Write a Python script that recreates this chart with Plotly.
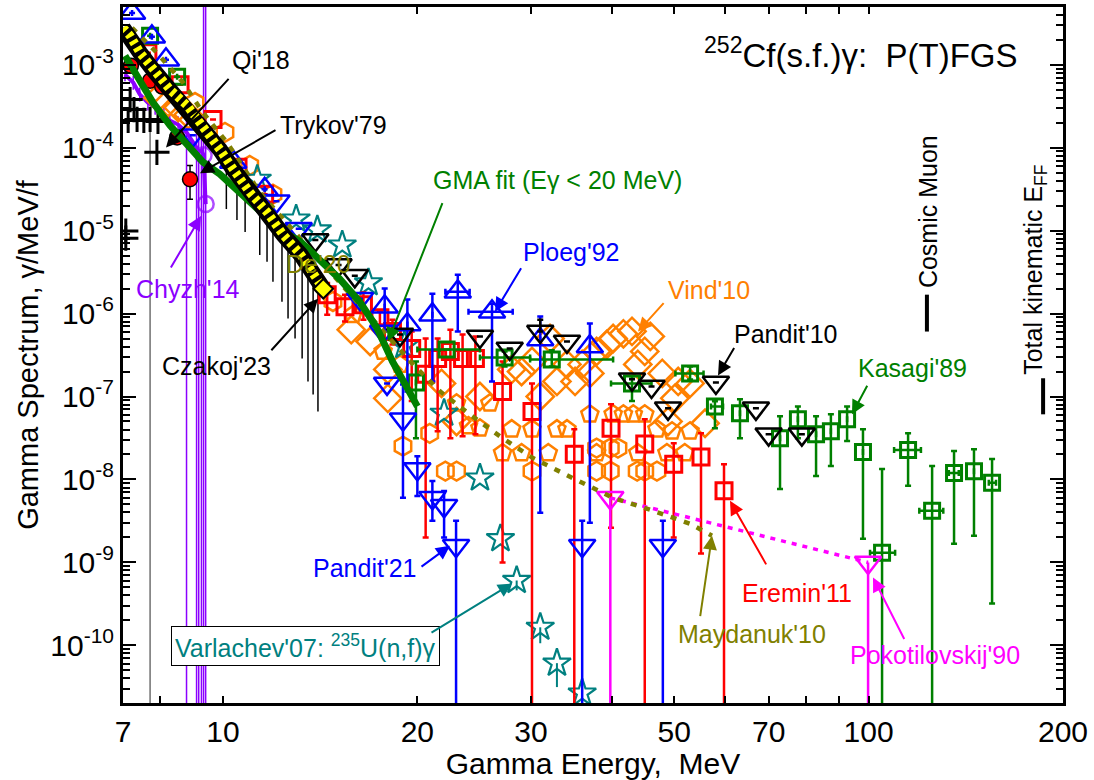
import numpy as np
import plotly.graph_objects as go

# Gamma energy in MeV, spectrum in gamma/MeV/fission.
FLOOR = 1e-12  # lower end for uncertainties that run below the axis range

# Czakoj'23 evaluated band and its uncertainty bars
czakoj_E = [7.0, 7.18, 7.44, 7.79, 8.28, 8.8, 9.31, 9.89, 10.37, 11.0, 11.7, 12.4, 13.2, 14.0, 14.3]
czakoj_y = [2.78e-3, 2.23e-3, 1.39e-3, 8.7e-4, 5.0e-4, 3.22e-4, 1.85e-4, 9.5e-5, 5.5e-5, 2.9e-5,
            1.67e-5, 8.85e-6, 5.1e-6, 2.42e-6, 1.99e-6]
czakoj_bar_E = [10.12, 10.51, 10.82, 11.13, 11.40, 11.70, 11.95, 12.34, 12.61, 12.93, 13.26, 13.54, 13.79, 14.03]
czakoj_bar_hi = [9.0e-5, 6.3e-5, 4.8e-5, 3.6e-5, 2.8e-5, 2.2e-5, 1.77e-5, 1.27e-5, 1.02e-5, 8.1e-6, 6.4e-6,
                 4.8e-6, 3.97e-6, 3.18e-6]
czakoj_bar_lo = [1.82e-5, 1.34e-5, 9.6e-6, 2.2e-5, 5.1e-6, 4.2e-6, 2.42e-6, 1.39e-6, 8.7e-7, 5.0e-7, 2.88e-7,
                 1.52e-7, 1.06e-7, 6.6e-8]

# GMA fit (E < 20 MeV)
gma_E = [7.05, 7.44, 7.79, 8.28, 8.8, 9.31, 9.89, 10.6, 11.4, 12.24, 13.2, 14.12, 15.16, 16.28, 17.3, 18.3, 19.3, 20.0]
gma_y = [1.28e-3, 6.6e-4, 3.5e-4, 1.85e-4, 1.07e-4, 6.7e-5, 4.8e-5, 2.9e-5, 1.67e-5, 1.04e-5, 7.3e-6, 4.56e-6,
         2.62e-6, 1.39e-6, 6.8e-7, 2.65e-7, 1.32e-7, 7.6e-8]

# Maydanuk'10
may_E = [7.23, 7.9, 8.67, 9.31, 10.14, 11.4, 13.2, 14.65, 16.9, 19.5, 21.7, 24.1, 27.1, 30.2, 34.8, 40.2, 46.4, 52.9, 57.2]
may_y = [2.78e-3, 1.39e-3, 6.1e-4, 2.65e-4, 1.16e-4, 2.9e-5, 7.9e-6, 3.18e-6, 9.2e-7, 2.65e-7, 1.15e-7, 6.1e-8,
         3.15e-8, 1.81e-8, 1.04e-8, 6.0e-9, 4.19e-9, 2.92e-9, 2.1e-9]

# Pokotilovskij'90
pok_E = [39.8, 99.8]
pok_y = [6.0e-9, 1.0e-9]

# Chyzh'14
chyzh_E = [7.05, 7.26, 7.43, 7.65, 7.85, 8.1, 8.27, 8.52, 8.78, 9.10, 9.17, 9.26, 9.33, 9.40]
chyzh_y = [7.6e-4, 6.1e-4, 4.4e-4, 3.5e-4, 3.1e-4, 2.5e-4, 2.13e-4, 1.9e-4, 1.53e-4, 1.0e-4, 8.8e-5, 9.3e-5, 8.1e-5, 2.09e-5]
chyzh_lo = [6.3e-4, 5.0e-4, 3.6e-4, 2.8e-4, 2.5e-4, 2.0e-4, 1.7e-4, 1.5e-4, FLOOR, FLOOR, FLOOR, FLOOR, FLOOR, FLOOR]
chyzh_hi = [9.0e-4, 7.3e-4, 5.3e-4, 4.3e-4, 3.8e-4, 3.1e-4, 2.6e-4, 2.4e-4, 2.2e-4, 1.6e-4, 1.4e-4, 1.5e-4, 1.0, 1.0]

# Trykov'79
try_E = [7.2, 7.71, 8.05, 8.49, 8.89]
try_y = [9.7e-4, 6.43e-4, 5.45e-4, 1.33e-4, 4.16e-5]
try_lo = [8.8e-4, 5.8e-4, 4.9e-4, 1.2e-4, 2.39e-5]
try_hi = [1.07e-3, 7.1e-4, 6.0e-4, 1.46e-4, 6.1e-5]

# Qi'18
qi_E = [7.18, 7.28, 7.13, 7.36, 7.54, 7.71, 7.93, 7.9, 7.07, 7.07]
qi_y = [3.8e-4, 2.88e-4, 2.13e-4, 2.19e-4, 2.13e-4, 2.19e-4, 2.07e-4, 8.8e-5, 9.9e-6, 8.1e-6]
qi_lo = [3.8e-4, 2.88e-4, 2.13e-4, 2.19e-4, 2.13e-4, FLOOR, 2.07e-4, 8.8e-5, 9.9e-6, 8.1e-6]

# Ploeg'92
ploeg_E = [7.23, 7.76, 8.16, 10.37, 11.6, 17.8, 19.3, 21.1, 23.1, 26.1, 31.0, 37.0]
ploeg_y = [4.2e-3, 2.17e-3, 1.15e-3, 6.7e-5, 3.16e-5, 1.21e-6, 7.36e-7, 9.7e-7, 1.83e-6, 1.05e-6, 4.86e-7, 4.0e-7]
ploeg_lo = [4.2e-3, 2.17e-3, 1.15e-3, 6.7e-5, 3.16e-5, 6.07e-7, 1.15e-7, 1.52e-7, 6.07e-7, 1.52e-7, 3.96e-9, 3.0e-9]
ploeg_hi = [4.2e-3, 2.17e-3, 1.15e-3, 6.7e-5, 3.16e-5, 2.0e-6, 1.48e-6, 1.73e-6, 2.93e-6, 1.31e-6, 9.2e-7, 7.6e-7]
ploeg_Elo = [7.23, 7.76, 8.16, 10.37, 11.6, 17.8, 19.3, 21.1, 22.1, 24.0, 31.0, 37.0]
ploeg_Ehi = [7.23, 7.76, 8.16, 10.37, 11.6, 17.8, 19.3, 21.1, 24.1, 28.1, 31.0, 37.0]

# Pandit'21
p21_E = [8.98, 12.1, 13.1, 16.3, 17.7, 17.95, 19.0, 20.0, 21.1, 22.0, 22.96, 36.0, 48.0]
p21_y = [1.41e-4, 2.26e-5, 1.05e-5, 1.51e-6, 6.07e-7, 1.44e-7, 5.32e-8, 1.34e-8, 6.0e-9, 4.81e-9, 1.59e-9, 1.59e-9, 1.59e-9]
p21_lo = [1.41e-4, 2.26e-5, 1.05e-5, 1.51e-6, 6.07e-7, 1.44e-7, 6.0e-9, 6.3e-9, 3.18e-9, 1.99e-9, FLOOR, FLOOR, FLOOR]
p21_hi = [1.41e-4, 2.26e-5, 1.05e-5, 1.51e-6, 6.07e-7, 1.44e-7, 1.4e-7, 1.91e-8, 9.6e-9, 7.28e-9, 3.18e-9, 3.18e-9, 3.18e-9]

# Pandit'10
p10_E = [13.9, 15.1, 16.0, 18.8, 25.0, 27.8, 31.0, 34.1, 43.0, 46.1, 48.9, 58.0, 66.9, 70.0, 78.8]
p10_y = [7.7e-6, 3.86e-6, 2.85e-6, 5.58e-7, 5.28e-7, 3.8e-7, 6.07e-7, 4.6e-7, 1.61e-7, 1.32e-7, 7.2e-8, 1.48e-7,
         7.2e-8, 3.52e-8, 3.52e-8]
p10_hi = [7.7e-6, 3.86e-6, 2.85e-6, 5.58e-7, 5.28e-7, 3.8e-7, 8.45e-7, 4.6e-7, 1.61e-7, 1.32e-7, 7.2e-8, 1.48e-7,
          7.2e-8, 3.52e-8, 3.52e-8]

# Kasagi'89
kas_E = [7.71, 8.49, 19.9, 22.2, 27.3, 32.3, 43.0, 52.9, 57.8, 63.2, 72.9, 77.7, 82.9, 87.4, 92.6, 98.0, 104.9,
         115.1, 125.4, 135.6, 145.6, 155.3]
kas_y = [2.23e-3, 7.18e-4, 1.48e-7, 3.69e-7, 2.96e-7, 2.8e-7, 1.44e-7, 1.9e-7, 7.6e-8, 6.3e-8, 3.15e-8, 5.32e-8,
         3.52e-8, 3.82e-8, 5.32e-8, 2.14e-8, 1.31e-9, 2.26e-8, 4.19e-9, 1.2e-8, 1.26e-8, 9.1e-9]
kas_lo = [2.23e-3, 7.18e-4, 3.15e-8, 3.69e-7, 2.3e-7, 2.3e-7, 8.8e-8, 1.6e-7, 4.15e-8, 3.15e-8, 7.7e-9, 3.15e-8,
          1.1e-8, 1.45e-8, 2.9e-8, 1.93e-9, FLOOR, 8.4e-9, FLOOR, 1.68e-9, 2.1e-9, 3.2e-10]
kas_hi = [2.23e-3, 7.18e-4, 2.65e-7, 3.69e-7, 3.49e-7, 3.6e-7, 1.75e-7, 2.3e-7, 8.75e-8, 9.25e-8, 5.78e-8, 7.6e-8,
          5.78e-8, 6.1e-8, 7.6e-8, 4.04e-8, 1.34e-8, 3.61e-8, 1.45e-8, 2.2e-8, 2.32e-8, 1.76e-8]
kas_Elo = [7.71, 8.49, 19.9, 20.0, 25.0, 29.9, 39.9, 50.2, 57.0, 63.2, 72.9, 77.7, 82.9, 87.4, 92.6, 98.0, 100.5,
           109.5, 119.8, 133.1, 145.6, 153.5]
kas_Ehi = [7.71, 8.49, 19.9, 25.0, 29.9, 40.2, 46.1, 55.5, 59.5, 63.2, 72.9, 77.7, 82.9, 87.4, 92.6, 98.0, 109.9,
           120.5, 130.5, 137.9, 145.6, 157.5]

# Eremin'11
er_E = [7.65, 8.58, 9.65, 10.55, 11.6, 14.5, 15.45, 16.5, 17.5, 18.3, 19.6, 20.6, 21.5, 22.5, 23.5, 24.6, 27.1,
        30.1, 35.0, 39.9, 45.0, 49.9, 55.0, 59.7]
er_y = [1.39e-3, 5.75e-4, 2.19e-4, 5.8e-5, 2.75e-5, 1.69e-6, 1.21e-6, 1.28e-6, 8.9e-7, 6.07e-7, 3.8e-7, 1.85e-7,
        2.88e-7, 3.49e-7, 2.88e-7, 2.88e-7, 1.15e-7, 6.6e-8, 2.02e-8, 4.15e-8, 2.67e-8, 1.53e-8, 1.86e-8, 7.3e-9]
er_lo = [1.39e-3, 5.75e-4, 2.19e-4, 5.8e-5, 2.75e-5, 9.7e-7, 8.0e-7, 8.4e-7, 7.4e-7, 4.24e-7, 8.8e-8, 1.99e-9,
         3.82e-8, 3.15e-8, 3.33e-8, 3.52e-8, 1.0e-9, FLOOR, FLOOR, 2.62e-9, FLOOR, 1.99e-9, 1.28e-9, FLOOR]
er_hi = [1.39e-3, 5.75e-4, 2.19e-4, 5.8e-5, 2.75e-5, 2.34e-6, 1.69e-6, 1.8e-6, 1.05e-6, 8.45e-7, 6.07e-7, 5.0e-7,
         5.0e-7, 6.4e-7, 5.58e-7, 5.28e-7, 2.65e-7, 1.44e-7, 4.04e-8, 8.05e-8, 5.32e-8, 2.74e-8, 3.61e-8, 1.53e-8]

# Varlachev'07, 235U(n,f)
var_E = [11.3, 12.98, 14.0, 15.3, 16.8, 19.1, 22.0, 25.0, 26.9, 28.5, 31.0, 32.9, 36.0]
var_y = [4.16e-5, 1.38e-5, 1.02e-5, 6.7e-6, 2.35e-6, 4.12e-7, 6.28e-8, 1.04e-8, 1.93e-9, 6.05e-10, 1.65e-10,
         6.1e-11, 2.66e-11]
var_lo = [4.16e-5, 1.38e-5, 1.02e-5, 6.7e-6, 2.35e-6, 4.12e-7, 6.28e-8, 1.04e-8, 1.93e-9, 4.6e-10, 1.06e-10,
          3.14e-11, 2.66e-11]

# Vind'10 (three sets)
vind_d_E = [7.93, 8.22, 8.52, 8.83, 15.8, 16.9, 18.0, 18.0, 21.8, 23.0, 25.0, 28.0, 29.0, 30.1, 31.0, 32.1, 32.9,
            34.1, 35.1, 36.0, 37.0, 37.9, 39.3, 40.2, 41.7, 43.0, 45.9, 45.0, 43.9, 47.9, 50.7, 52.9, 50.1, 48.9, 55.8]
vind_d_y = [4.0e-4, 3.5e-4, 3.05e-4, 2.5e-4, 6.4e-7, 4.6e-7, 2.12e-7, 9.5e-8, 1.44e-7, 5.0e-8, 1.0e-7, 2.12e-7,
            2.0e-7, 2.65e-7, 1.0e-7, 5.0e-7, 1.52e-7, 2.44e-7, 1.52e-7, 2.44e-7, 1.9e-7, 3.5e-7, 4.24e-7, 5.0e-7,
            5.7e-7, 6.1e-7, 5.3e-7, 3.5e-7, 2.44e-7, 1.9e-7, 1.52e-7, 1.44e-7, 9.5e-8, 5.0e-8, 4.76e-8]
vind_p_E = [15.9, 17.7, 18.8, 23.0, 24.0, 25.0, 25.9, 28.0, 30.1, 32.9, 34.1, 27.1, 29.0, 31.9, 37.0, 40.2, 41.7,
            43.2, 45.0, 47.0, 49.6, 52.9, 37.9, 43.9, 48.7, 51.9]
vind_p_y = [9.7e-7, 3.5e-7, 2.44e-7, 8.3e-8, 4.4e-8, 4.15e-8, 8.3e-8, 4.04e-8, 4.04e-8, 4.04e-8, 4.04e-8, 2.08e-8,
            2.08e-8, 2.08e-8, 6.1e-8, 6.1e-8, 6.1e-8, 6.1e-8, 6.1e-8, 4.04e-8, 3.82e-8, 3.82e-8, 2.08e-8, 2.08e-8,
            2.08e-8, 2.08e-8]
vind_h_E = [9.05, 10.07, 11.0, 11.95, 14.8, 19.0, 20.9, 22.1, 23.0, 30.1, 37.9, 39.8, 40.9, 37.9, 39.8, 43.8, 45.0, 47.0]
vind_h_y = [3.5e-4, 1.53e-4, 6.1e-5, 2.75e-5, 1.4e-6, 2.52e-8, 3.6e-8, 1.26e-8, 1.26e-8, 1.26e-8, 2.39e-8, 2.39e-8,
            2.39e-8, 1.26e-8, 1.26e-8, 1.26e-8, 1.26e-8, 1.26e-8]

# Reference energies
muon_E, muon_span = 123.1, [6.07e-7, 1.69e-6]
eff_E, eff_span = 186.3, [6.1e-8, 1.66e-7]

# Axis ticks
x_ticks = [7, 10, 20, 30, 50, 70, 100, 200]
x_minor = [8, 40, 60, 80, 90]
y_exponents = list(range(-10, -2))

# ---------- styling ----------
FONT = "Arial, Liberation Sans, sans-serif"
BLUE, RED, GREEN, TEAL = "#0000FF", "#FF0000", "#008000", "#008080"
ORANGE, OLIVE, MAGENTA, PURPLE = "#FF8000", "#808000", "#FF00FF", "#8B00FF"


def yerr(y, lo, hi, color, width=3, thickness=2.5):
    y, lo, hi = (np.asarray(a, dtype=float) for a in (y, lo, hi))
    return dict(type="data", symmetric=False, array=hi - y, arrayminus=y - lo,
                color=color, width=width, thickness=thickness)


def xerr(E, lo, hi, color, width=3, thickness=2.5):
    E, lo, hi = (np.asarray(a, dtype=float) for a in (E, lo, hi))
    return dict(type="data", symmetric=False, array=hi - E, arrayminus=E - lo,
                color=color, width=width, thickness=thickness)


def open_marker(symbol, color, size, lw=2.5):
    return dict(symbol=symbol, size=size, color=color, line=dict(color=color, width=lw))


fig = go.Figure()

# Czakoj'23 uncertainty bars
bx, by = [], []
for e, lo, hi in zip(czakoj_bar_E, czakoj_bar_lo, czakoj_bar_hi):
    bx += [e, e, None]
    by += [hi, lo, None]
fig.add_trace(go.Scatter(x=bx, y=by, mode="lines", line=dict(color="black", width=1.5)))

# Chyzh'14
fig.add_trace(go.Scatter(
    x=chyzh_E, y=chyzh_y, mode="lines+markers",
    line=dict(color=PURPLE, width=4),
    marker=dict(symbol="circle-open", color=PURPLE, size=[0] * 12 + [16, 16], line=dict(color=PURPLE, width=2.5)),
    error_y=yerr(chyzh_y, chyzh_lo, chyzh_hi, PURPLE, width=0, thickness=1.5)))

# Vind'10
fig.add_trace(go.Scatter(x=vind_h_E, y=vind_h_y, mode="markers", marker=open_marker("hexagon-open", ORANGE, 19)))
fig.add_trace(go.Scatter(x=vind_p_E, y=vind_p_y, mode="markers", marker=open_marker("pentagon-open", ORANGE, 18)))
fig.add_trace(go.Scatter(x=vind_d_E, y=vind_d_y, mode="markers", marker=open_marker("diamond-open", ORANGE, 21)))

# Varlachev'07
fig.add_trace(go.Scatter(x=var_E, y=var_y, mode="markers", marker=open_marker("star-open", TEAL, 21, 2.2),
                         error_y=yerr(var_y, var_lo, var_y, TEAL, width=0, thickness=2)))

# Eremin'11
fig.add_trace(go.Scatter(x=er_E, y=er_y, mode="markers", marker=open_marker("square-open", RED, 16, 3),
                         error_y=yerr(er_y, er_lo, er_hi, RED)))

# Kasagi'89
fig.add_trace(go.Scatter(x=kas_E, y=kas_y, mode="markers", marker=open_marker("square-open", GREEN, 15, 3),
                         error_y=yerr(kas_y, kas_lo, kas_hi, GREEN),
                         error_x=xerr(kas_E, kas_Elo, kas_Ehi, GREEN)))

# Ploeg'92
fig.add_trace(go.Scatter(x=ploeg_E, y=ploeg_y, mode="markers", marker=open_marker("triangle-up-open", BLUE, 23),
                         error_y=yerr(ploeg_y, ploeg_lo, ploeg_hi, BLUE),
                         error_x=xerr(ploeg_E, ploeg_Elo, ploeg_Ehi, BLUE)))

# Pandit'21
fig.add_trace(go.Scatter(x=p21_E, y=p21_y, mode="markers", marker=open_marker("triangle-down-open", BLUE, 23),
                         error_y=yerr(p21_y, p21_lo, p21_hi, BLUE)))

# Pandit'10
fig.add_trace(go.Scatter(x=p10_E, y=p10_y, mode="markers", marker=open_marker("triangle-down-open", "black", 23),
                         error_y=yerr(p10_y, p10_y, p10_hi, "black")))

# Qi'18
fig.add_trace(go.Scatter(x=qi_E, y=qi_y, mode="markers",
                         marker=dict(symbol="cross-thin-open", size=18, color="black", line=dict(color="black", width=3)),
                         error_y=yerr(qi_y, qi_lo, qi_y, "#707070", width=0, thickness=1.5)))

# Trykov'79
fig.add_trace(go.Scatter(x=try_E, y=try_y, mode="markers",
                         marker=dict(symbol="circle", size=15, color=RED, line=dict(color="black", width=1.5)),
                         error_y=yerr(try_y, try_lo, try_hi, "black", width=3, thickness=1.5)))

# Pokotilovskij'90
fig.add_trace(go.Scatter(x=pok_E, y=pok_y, mode="lines+markers",
                         line=dict(color=MAGENTA, width=3.5, dash="5px,6px"),
                         marker=open_marker("triangle-down-open", MAGENTA, 23),
                         error_y=yerr(pok_y, [FLOOR, FLOOR], pok_y, MAGENTA, width=0, thickness=2.5)))

# Maydanuk'10
fig.add_trace(go.Scatter(x=may_E, y=may_y, mode="lines", line=dict(color=OLIVE, width=4.5, dash="6px,8px")))

# GMA fit
fig.add_trace(go.Scatter(x=gma_E, y=gma_y, mode="lines", line=dict(color=GREEN, width=7)))

# Czakoj'23 band
fig.add_trace(go.Scatter(x=czakoj_E, y=czakoj_y, mode="lines", line=dict(color="black", width=16)))
fig.add_trace(go.Scatter(x=czakoj_E, y=czakoj_y, mode="lines", line=dict(color="#FFFF00", width=9, dash="4px,4px")))
fig.add_trace(go.Scatter(x=czakoj_E[-1:], y=czakoj_y[-1:], mode="markers",
                         marker=dict(symbol="diamond", size=15, color="#FFFF00", line=dict(color="black", width=2))))

# Cosmic muon and total kinematic fragment energy markers
fig.add_trace(go.Scatter(x=[muon_E, muon_E], y=muon_span, mode="lines", line=dict(color="black", width=4)))
fig.add_trace(go.Scatter(x=[eff_E, eff_E], y=eff_span, mode="lines", line=dict(color="black", width=4)))

# ---------- labels ----------
L, R, T, B = 123, 1063, 4, 703


def paper(px, py):
    return (px - L) / (R - L), (B - py) / (B - T)


def label(text, px, py, color, size=25, **extra):
    x, y = paper(px, py)
    return dict(x=x, y=y, xref="paper", yref="paper", xanchor="center", yanchor="middle",
                text=text, showarrow=False, font=dict(family=FONT, size=size, color=color), **extra)


annotations = [
    label("Qi'18", 261, 57, "black"),
    label("Trykov'79", 333, 123, "black"),
    label("GMA fit (Eγ < 20 MeV)", 557, 178, GREEN),
    label("Ploeg'92", 571, 250, BLUE),
    label("Vind'10", 709, 288, ORANGE),
    label("Pandit'10", 785, 332, "black"),
    label("Kasagi'89", 912, 367, GREEN),
    label("Chyzh'14", 188, 287, PURPLE),
    label("Czakoj'23", 216, 365, "black"),
    label("Pandit'21", 364, 567, BLUE),
    label("Eremin'11", 797, 593, RED),
    label("Maydanuk'10", 752, 634, OLIVE),
    label("Pokotilovskij'90", 935, 655, MAGENTA),
    label("De'20", 318, 262, OLIVE),
    label("Varlachev'07: <sup>235</sup>U(n,f)γ", 305, 646, TEAL,
          bordercolor="black", borderwidth=1, borderpad=3, bgcolor="white"),
    label("<sup>252</sup>Cf(s.f.)γ:\u00a0 P(T)FGS", 861, 50, "black", size=33),
    label("Cosmic Muon", 928, 210, "black", textangle=-90),
    label("Total kinematic E<sub>FF</sub>", 1035, 268, "black", textangle=-90),
]

# arrows: (tail x, tail y, tip x, tip y, colour)
arrows = [
    (230, 75, 166, 145, "black"),
    (277, 127, 200, 171, "black"),
    (443, 200, 388, 340, GREEN),
    (522, 265, 495, 310, BLUE),
    (665, 300, 638, 330, ORANGE),
    (735, 345, 718, 374, "black"),
    (868, 383, 852, 413, GREEN),
    (170, 267, 201, 214, PURPLE),
    (270, 350, 318, 297, "black"),
    (420, 567, 450, 545, BLUE),
    (430, 633, 512, 583, TEAL),
    (767, 565, 730, 500, RED),
    (700, 617, 712, 535, OLIVE),
    (905, 640, 873, 577, MAGENTA),
]
for tx, ty, hx, hy, color in arrows:
    x, y = paper(hx, hy)
    annotations.append(dict(x=x, y=y, xref="paper", yref="paper", text="", showarrow=True,
                            axref="pixel", ayref="pixel", ax=tx - hx, ay=ty - hy,
                            arrowhead=2, arrowsize=1.4, arrowwidth=2, arrowcolor=color))

# longer decade ticks on the energy axis
shapes = []
for dec in (10, 100):
    for y0, y1 in ((0, 14 / (B - T)), (1 - 14 / (B - T), 1)):
        shapes.append(dict(type="line", xref="x", yref="paper", x0=np.log10(dec), x1=np.log10(dec),
                           y0=y0, y1=y1, line=dict(color="black", width=2)))

y_minor = [k * 10.0 ** n for n in range(-11, -2) for k in range(2, 10)]

fig.update_layout(
    width=1094, height=780,
    margin=dict(l=L, r=1094 - R, t=T, b=780 - B),
    paper_bgcolor="white", plot_bgcolor="white",
    showlegend=False,
    font=dict(family=FONT, color="black"),
    annotations=annotations,
    shapes=shapes,
    xaxis=dict(
        type="log", range=[np.log10(7), np.log10(200)],
        tickmode="array", tickvals=x_ticks, ticktext=[str(v) for v in x_ticks],
        ticks="inside", ticklen=7, tickwidth=2, tickcolor="black",
        minor=dict(tickmode="array", tickvals=x_minor, ticks="inside", ticklen=7, tickwidth=2,
                   tickcolor="black"),
        showline=True, linewidth=3, linecolor="black", mirror="ticks",
        showgrid=False, zeroline=False,
        tickfont=dict(family=FONT, size=30),
        title=dict(text="Gamma Energy,\u00a0 MeV", font=dict(family=FONT, size=30), standoff=2),
    ),
    yaxis=dict(
        type="log", range=[-10.695, -2.304],
        tickmode="array", tickvals=[10.0 ** n for n in y_exponents],
        ticktext=[f"10<sup>{n}</sup>" for n in y_exponents],
        ticks="inside", ticklen=13, tickwidth=2, tickcolor="black",
        minor=dict(tickmode="array", tickvals=y_minor, ticks="inside", ticklen=7, tickwidth=2, tickcolor="black"),
        showline=True, linewidth=3, linecolor="black", mirror="ticks",
        showgrid=False, zeroline=False,
        tickfont=dict(family=FONT, size=30),
        title=dict(text="Gamma Spectrum, γ/MeV/f", font=dict(family=FONT, size=29), standoff=4),
    ),
)

fig.write_html("out.html")
